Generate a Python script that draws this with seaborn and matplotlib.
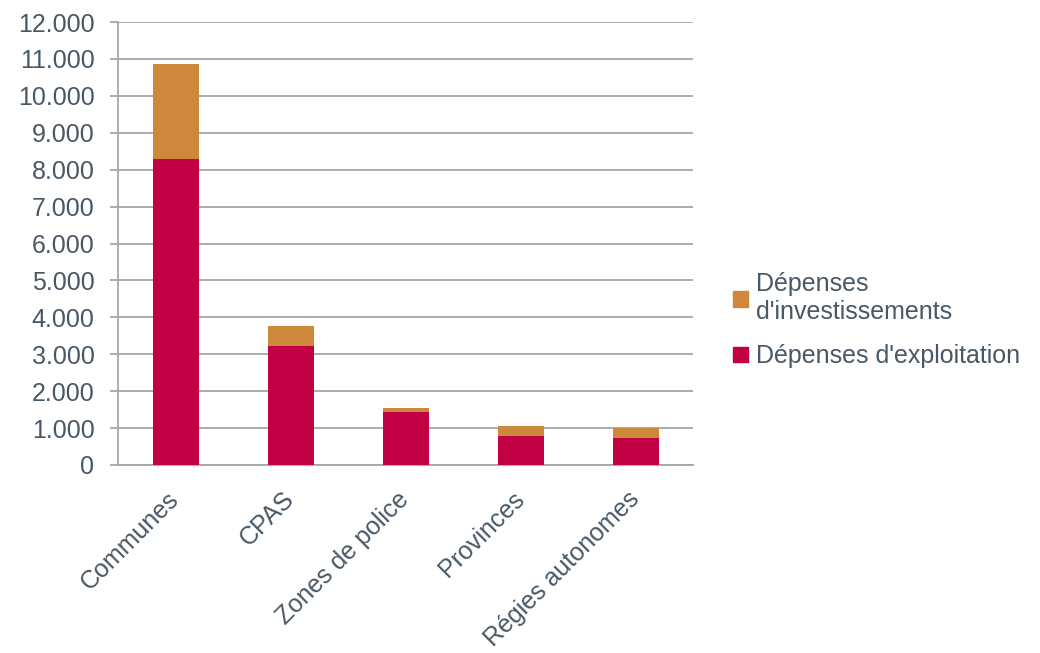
import matplotlib
matplotlib.use("Agg")
import matplotlib.pyplot as plt
from matplotlib.patches import Patch
import pandas as pd
import seaborn as sns

categories = ["Communes", "CPAS", "Zones de police", "Provinces", "Régies autonomes"]
exploitation = [8280, 3220, 1435, 795, 725]
investissements = [2580, 545, 110, 260, 285]
y_ticks = [0, 1000, 2000, 3000, 4000, 5000, 6000, 7000, 8000, 9000, 10000, 11000, 12000]
y_tick_labels = ["0", "1.000", "2.000", "3.000", "4.000", "5.000", "6.000",
                 "7.000", "8.000", "9.000", "10.000", "11.000", "12.000"]

red = "#C20044"
orange = "#CE883C"
text_col = "#485866"
grid_col = "#A3A6AA"
fs = 18

df = pd.DataFrame({
    "cat": categories,
    "exploitation": exploitation,
    "total": [a + b for a, b in zip(exploitation, investissements)],
})

sns.set_style("white")
plt.rcParams["font.family"] = ["Liberation Sans", "DejaVu Sans"]

fig = plt.figure(figsize=(10.4, 6.53), dpi=100)
ax = fig.add_axes([118 / 1040, 1 - 465 / 653, (693 - 118) / 1040, (465 - 22) / 653])

sns.barplot(data=df, x="cat", y="total", color=orange, width=0.4, ax=ax,
            saturation=1, edgecolor="none", zorder=3)
sns.barplot(data=df, x="cat", y="exploitation", color=red, width=0.4, ax=ax,
            saturation=1, edgecolor="none", zorder=4)

ax.set_ylim(0, 12000)
ax.set_xlim(-0.5, len(categories) - 0.5)
ax.set_yticks(y_ticks)
ax.set_yticklabels(y_tick_labels, fontsize=fs, color=text_col)
ax.yaxis.grid(True, color=grid_col, linewidth=1.3, zorder=0)
ax.set_axisbelow(True)

ax.set_xticks(range(len(categories)))
ax.set_xticklabels(categories, rotation=45, ha="right", va="center",
                   rotation_mode="anchor", fontsize=fs, color=text_col)
ax.set_xticks([i - 0.5 for i in range(len(categories) + 1)], minor=True)
ax.tick_params(axis="x", which="major", length=0, pad=22)
ax.tick_params(axis="x", which="minor", length=6, color=grid_col, width=1.3, direction="out")
ax.tick_params(axis="y", length=6, color=grid_col, width=1.3, direction="out", pad=11, left=True)

ax.set_xlabel("")
ax.set_ylabel("")
for s in ["top", "right"]:
    ax.spines[s].set_visible(False)
for s in ["left", "bottom"]:
    ax.spines[s].set_color(grid_col)
    ax.spines[s].set_linewidth(1.3)

handles = [Patch(color=orange, label="Dépenses\nd'investissements"),
           Patch(color=red, label="Dépenses d'exploitation")]
leg = fig.legend(handles=handles, loc="upper left", bbox_to_anchor=(710 / 1040, 1 - 250 / 653),
                 frameon=False, fontsize=fs, handlelength=0.6, handleheight=0.6,
                 handletextpad=0.35, labelspacing=0.8)
for t in leg.get_texts():
    t.set_color(text_col)

fig.savefig("out.png", dpi=100)
